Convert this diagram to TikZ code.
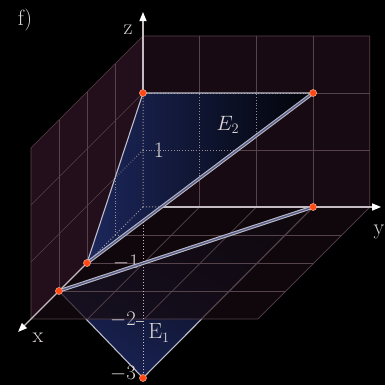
\documentclass[tikz,border=0pt]{standalone}
\usetikzlibrary{arrows.meta,shadings}
\definecolor{wallL}{HTML}{220F1B}
\definecolor{wallB}{HTML}{180A13}
\definecolor{floorC}{HTML}{150A10}
\definecolor{gridC}{HTML}{55424A}
\definecolor{axisC}{HTML}{C4BCC0}
\definecolor{navy}{HTML}{1C275C}
\definecolor{edgeC}{HTML}{BDBDC8}
\definecolor{dotC}{HTML}{FF4A14}
\definecolor{txtC}{HTML}{DCD6D6}
\definecolor{dblIn}{HTML}{5A5F8A}
\begin{document}
\begin{tikzpicture}[x={(-28pt,-28pt)},y={(56.7pt,0pt)},z={(0pt,57pt)},
 grid/.style={draw=gridC,line width=0.7pt},
 dotgrid/.style={draw=gridC!60!white,line width=0.8pt,dotted},
 axisline/.style={draw=axisC,line width=1.2pt},
 tip/.style={-{Triangle[length=9pt,width=7pt,color=white]}},
 edge/.style={draw=edgeC,line width=1.1pt},
 trace/.style={draw=edgeC,line width=1pt,double=dblIn,double distance=1.4pt},
 pt/.style={circle,fill=dotC,draw=dotC!45!white,line width=0.5pt,inner sep=0pt,minimum size=7pt},
 lbl/.style={text=txtC,font=\fontsize{22}{24}\selectfont,inner sep=0pt}]
\fill[black] (-143pt,-178pt) rectangle (242pt,207pt);
\useasboundingbox (-143pt,-178pt) rectangle (242pt,207pt);
% points
\coordinate (O) at (0,0,0);
\coordinate (A) at (0,0,2);
\coordinate (B) at (0,3,2);
\coordinate (C) at (2,0,0);
\coordinate (D) at (3,0,0);
\coordinate (F) at (0,3,0);
\coordinate (G) at (0,0,-3);
\coordinate (Xt) at (4.46,0,0);
\coordinate (Yt) at (0,4.2,0);
\coordinate (Zt) at (0,0,3.42);
% walls
\fill[wallL] (0,0,0)--(4,0,0)--(4,0,3)--(0,0,3)--cycle;
\fill[wallB] (0,0,0)--(0,4,0)--(0,4,3)--(0,0,3)--cycle;
% plane E1 (below floor)
\shade[upper right=black, upper left=navy!55!black, lower left=navy, lower right=navy!60!black] (D)--(F)--(G)--cycle;
\draw[edge] (D)--(G)--(F);
% floor
\fill[floorC,fill opacity=0.72] (0,0,0)--(4,0,0)--(4,4,0)--(0,4,0)--cycle;
% grid
\foreach \i in {1,2,3} {
  \draw[grid] (\i,0,0)--(\i,0,3);
  \draw[grid] (0,\i,0)--(0,\i,3);
  \draw[grid] (\i,0,0)--(\i,4,0);
  \draw[grid] (0,\i,0)--(4,\i,0);
}
\foreach \j in {1,2} {
  \draw[grid] (0,0,\j)--(4,0,\j);
  \draw[grid] (0,0,\j)--(0,4,\j);
}
\draw[grid] (4,0,0)--(4,0,3)--(0,0,3)--(0,4,3)--(0,4,0);
\draw[grid] (4,0,0)--(4,4,0)--(0,4,0);
% axes
\draw[axisline,tip] (O)--(Xt);
\draw[axisline,tip] (O)--(Yt);
\draw[axisline,tip] (O)--(Zt);
\draw[axisC,dotted,line width=1pt] (O)--(G);
\draw[axisC,line width=0.9pt] (0,0,-1) -- ++(-7pt,0pt);
\draw[axisC,line width=0.9pt] (0,0,-2) -- ++(-7pt,0pt);
% plane E2
\shade[left color=navy, right color=black!92!navy] (A)--(B)--(C)--cycle;
\begin{scope}
\clip (A)--(B)--(C)--cycle;
\foreach \i in {1,2,3} {
  \draw[dotgrid] (\i,0,0)--(\i,0,3);
  \draw[dotgrid] (0,\i,0)--(0,\i,3);
  \draw[dotgrid] (\i,0,0)--(\i,4,0);
  \draw[dotgrid] (0,\i,0)--(4,\i,0);
}
\foreach \j in {1,2} {
  \draw[dotgrid] (0,0,\j)--(4,0,\j);
  \draw[dotgrid] (0,0,\j)--(0,4,\j);
}
\draw[axisC!80!black,dotted,line width=1pt] (O)--(Zt) (O)--(Xt) (O)--(Yt);
\end{scope}
\draw[edge] (C)--(A)--(B);
% labels
\node[lbl] (lf) at (-118pt,187pt) {f)};
\node[lbl] (lz) at (-15pt,177pt) {z};
\node[lbl] (ly) at (236pt,-25pt) {y};
\node[lbl] (lx) at (-105pt,-131pt) {x};
\node[lbl] (l1) at (16pt,57pt) {1};
\node[lbl] (lm1) at (-17pt,-56pt) {$-1$};
\node[lbl] (lm2) at (-20pt,-113pt) {$-2$};
\node[lbl] (lm3) at (-20pt,-167pt) {$-3$};
\node[lbl] (lE2) at (85pt,82pt) {$E_2$};
\node[lbl] (lE1) at (16pt,-126pt) {E$_1$};
% traces
\draw[trace] (B)--(C);
\draw[trace] (D)--(F);
% dots
\node[pt] (pA) at (A) {};
\node[pt] (pB) at (B) {};
\node[pt] (pC) at (C) {};
\node[pt] (pD) at (D) {};
\node[pt] (pF) at (F) {};
\node[pt] (pG) at (G) {};
\end{tikzpicture}
\end{document}
